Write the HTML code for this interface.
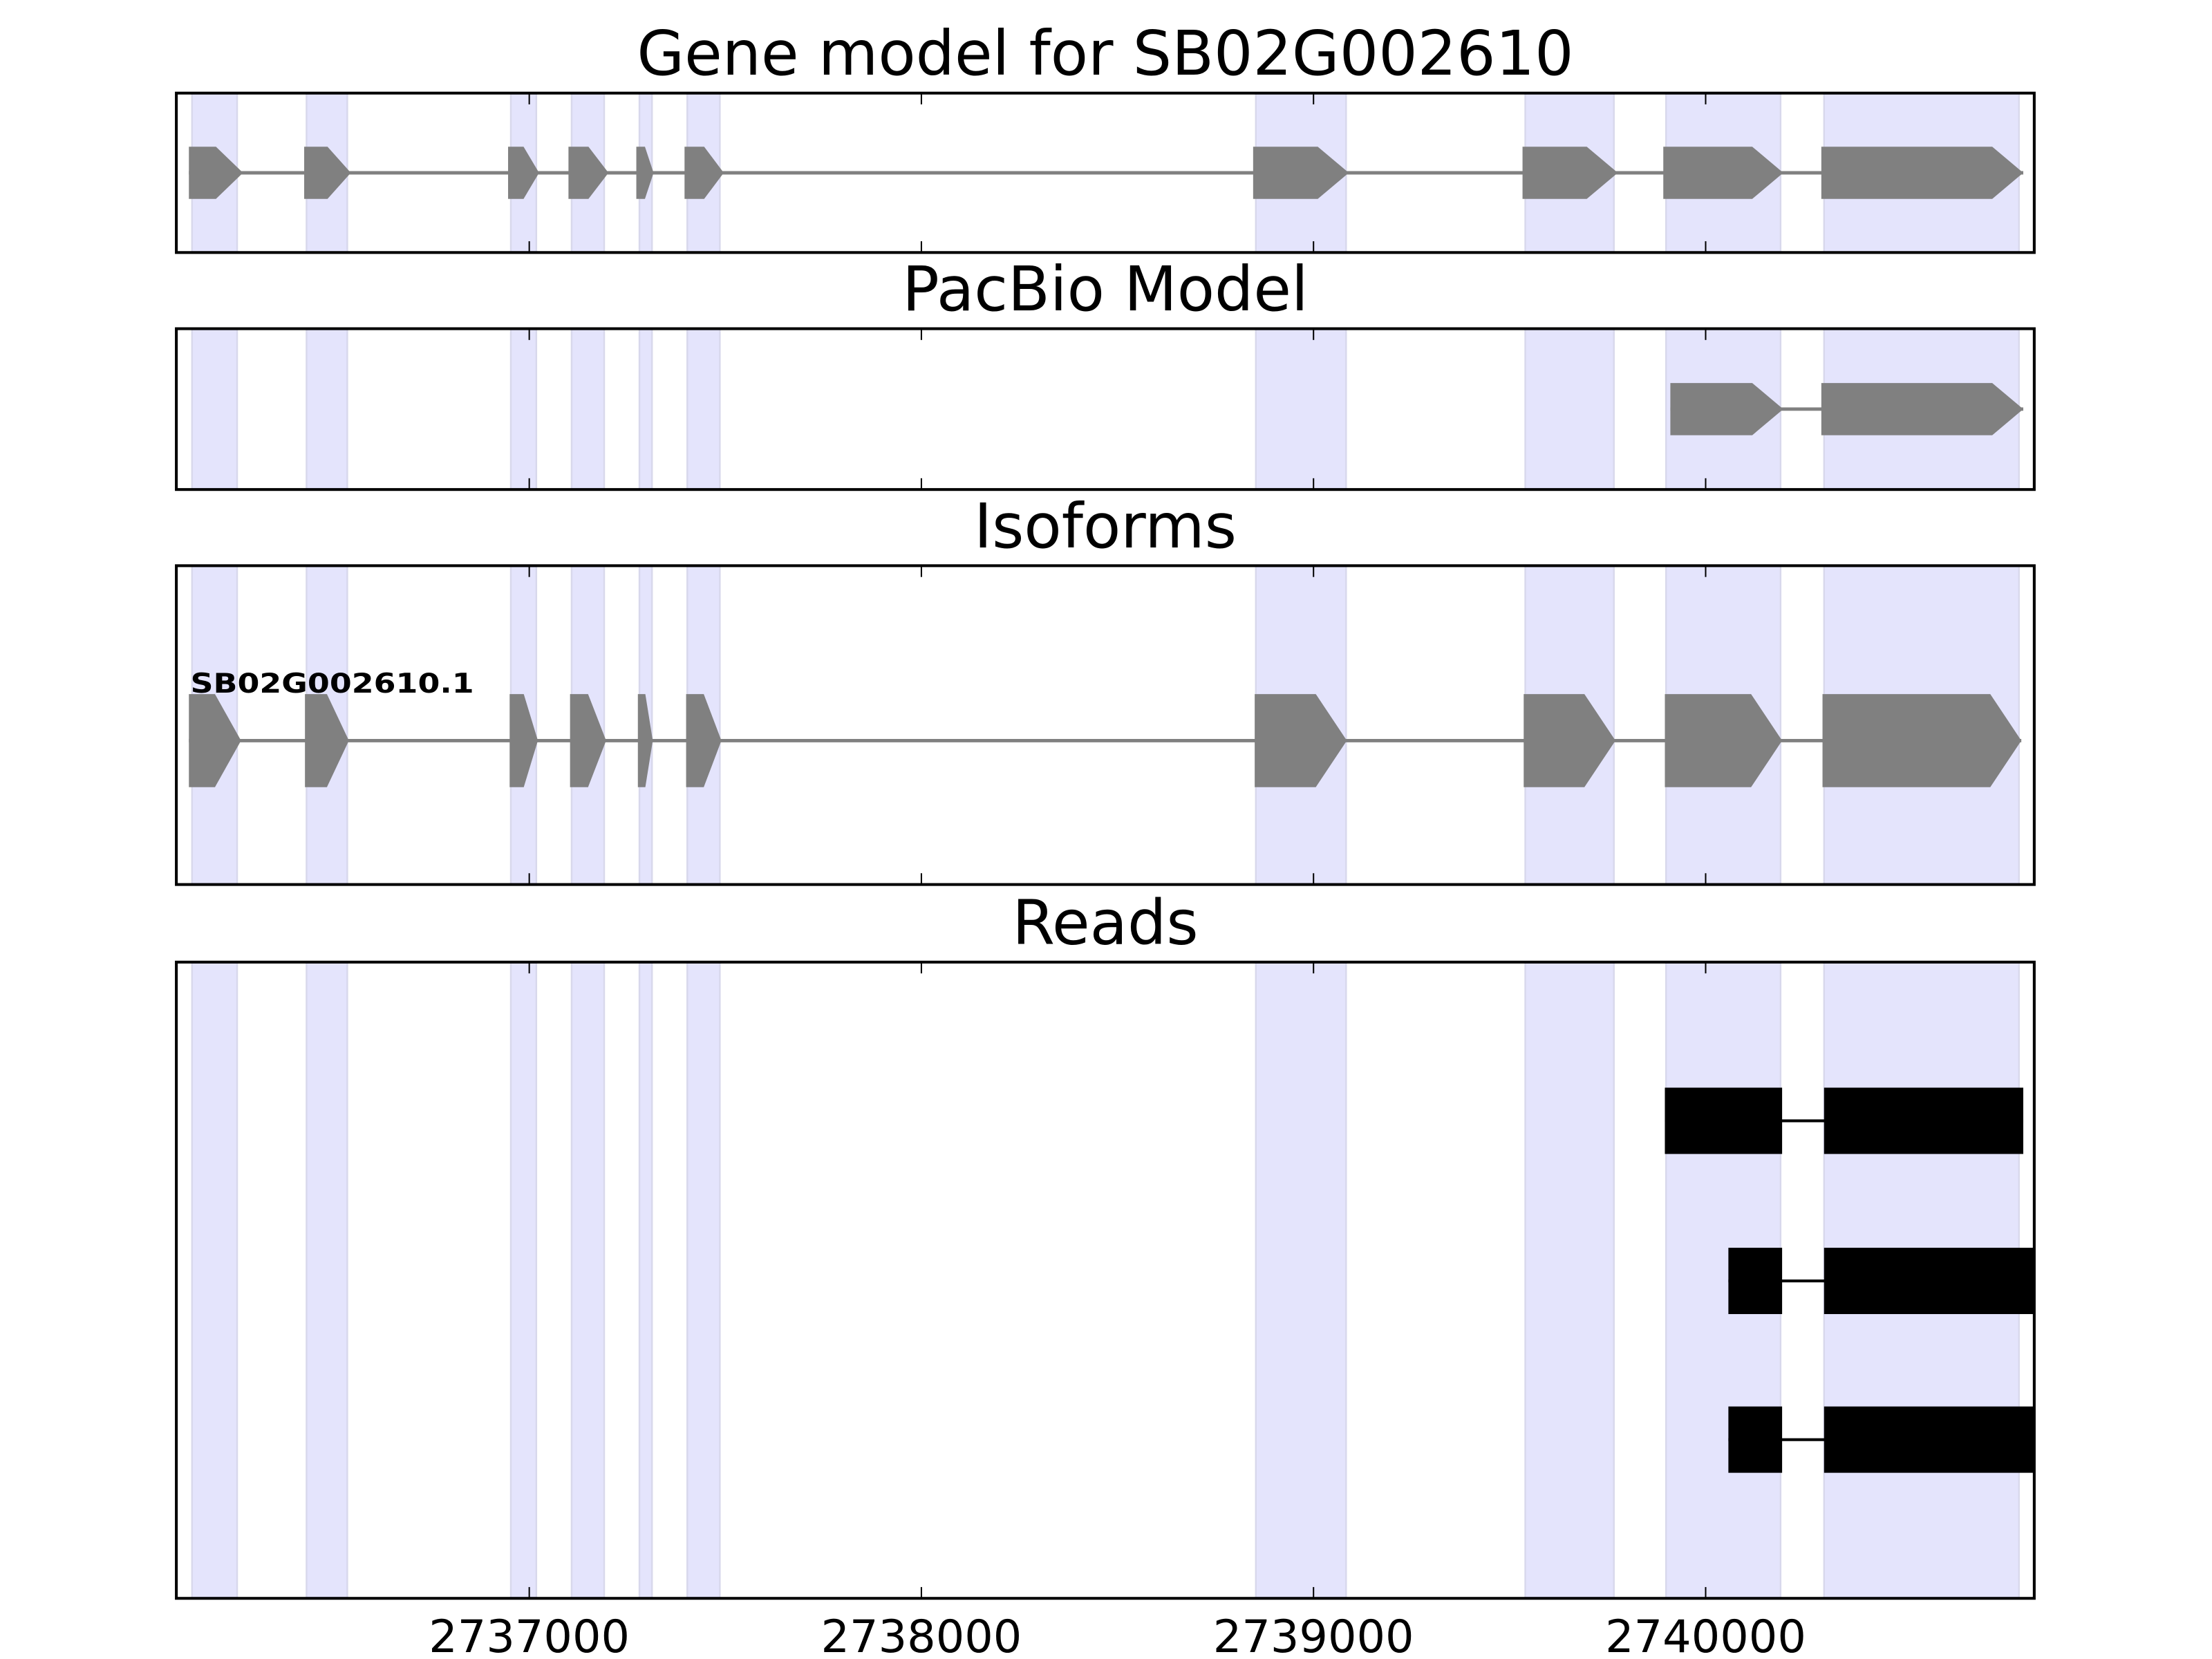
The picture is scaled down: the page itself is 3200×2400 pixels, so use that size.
<!DOCTYPE html>
<html><head><meta charset="utf-8"><style>
html,body{margin:0;padding:0;background:#fff;}
svg{display:block;}
text{font-family:"DejaVu Sans","Liberation Sans",sans-serif;}
</style></head><body>
<svg id="chart" xmlns="http://www.w3.org/2000/svg" width="3200" height="2400" viewBox="0 0 1568 1176"></svg>
<script>
const xDomain = [2736100, 2740838];
const tickValues = [2737000, 2738000, 2739000, 2740000];
const tickLabels = ["2737000", "2738000", "2739000", "2740000"];
const bandStarts = [2736140, 2736432, 2736953, 2737108, 2737281, 2737403, 2738853, 2739540, 2739899, 2740302];
const bandEnds   = [2736255, 2736536, 2737018, 2737191, 2737313, 2737486, 2739083, 2739766, 2740191, 2740799];
const geneStarts = [2736132, 2736426, 2736946, 2737100, 2737273, 2737396, 2738846, 2739533, 2739892, 2740295];
const geneEnds   = [2736270, 2736545, 2737025, 2737202, 2737317, 2737496, 2739090, 2739776, 2740198, 2740810];
const pacStarts = [2739910, 2740295];
const pacEnds   = [2740198, 2740810];
const isoStarts = [2736132, 2736428, 2736950, 2737104, 2737277, 2737400, 2738850, 2739536, 2739896, 2740298];
const isoEnds   = [2736265, 2736540, 2737022, 2737196, 2737315, 2737490, 2739085, 2739770, 2740195, 2740805];
const readStarts = [[2739896, 2740302], [2740058, 2740302], [2740058, 2740302]];
const readEnds   = [[2740195, 2740810], [2740195, 2740900], [2740195, 2740900]];

const NS = "http://www.w3.org/2000/svg";
const svg = document.getElementById('chart');
const L = 125, R = 1442;
function xs(v){ return L + (v - xDomain[0]) / (xDomain[1] - xDomain[0]) * (R - L); }
function mk(tag, attrs, parent){ const e = document.createElementNS(NS, tag); for (const k in attrs) e.setAttribute(k, attrs[k]); (parent||svg).appendChild(e); return e; }

const panels = [
  {name:'gene-model-panel', title:'Gene model for SB02G002610', top:66, bot:179},
  {name:'pacbio-panel', title:'PacBio Model', top:233, bot:347},
  {name:'isoforms-panel', title:'Isoforms', top:401, bot:627},
  {name:'reads-panel', title:'Reads', top:682, bot:1133}
];

function arrowExons(g, starts, ends, cy, h, nm){
  mk('line', {x1:xs(starts[0]), x2:xs(ends[ends.length-1]), y1:cy, y2:cy, stroke:'#808080', 'stroke-width':2.4}, g);
  for (let i = 0; i < starts.length; i++){
    const x0 = xs(starts[i]), x1 = xs(ends[i]);
    const w = x1 - x0, tip = Math.min(22, w * 0.5);
    const p = mk('polygon', {points:`${x0},${cy-h/2} ${x1-tip},${cy-h/2} ${x1},${cy} ${x1-tip},${cy+h/2} ${x0},${cy+h/2}`, fill:'#808080'}, g);
    
    
  }
}

panels.forEach((p, pi) => {
  const g = mk('g', {});
  
  
  const clipId = 'clip' + pi;
  const cp = mk('clipPath', {id: clipId}, g);
  mk('rect', {x:L, y:p.top, width:R-L, height:p.bot-p.top}, cp);
  const inner = mk('g', {'clip-path':`url(#${clipId})`}, g);
  for (let i = 0; i < bandStarts.length; i++){
    const b = mk('rect', {x:xs(bandStarts[i]), y:p.top, width:xs(bandEnds[i])-xs(bandStarts[i]), height:p.bot-p.top, fill:'#e4e4fc', stroke:'#d8d8ec', 'stroke-width':1.2}, inner);
    
    
  }
  if (pi === 0) arrowExons(inner, geneStarts, geneEnds, 122.5, 37, 'gene');
  if (pi === 1) arrowExons(inner, pacStarts, pacEnds, 290, 37, 'pacbio');
  if (pi === 2){
    arrowExons(inner, isoStarts, isoEnds, 525, 66, 'isoform');
    const t = mk('text', {x:135, y:491, 'font-size':19, 'font-weight':'bold', textLength:201, lengthAdjust:'spacingAndGlyphs'}, g);
    t.textContent = 'SB02G002610.1';
    
    
  }
  if (pi === 3){
    const cys = [794.5, 908, 1020.5];
    readStarts.forEach((rs, ri) => {
      const re = readEnds[ri];
      const rg = mk('g', {}, inner);
      
      
      mk('line', {x1:xs(rs[0]), x2:xs(re[re.length-1]), y1:cys[ri], y2:cys[ri], stroke:'#000', 'stroke-width':2}, rg);
      for (let k = 0; k < rs.length; k++){
        const r = mk('rect', {x:xs(rs[k]), y:cys[ri]-23.5, width:xs(re[k])-xs(rs[k]), height:47, fill:'#000'}, rg);
        
      }
    });
  }
  tickValues.forEach(v => {
    mk('line', {x1:xs(v), x2:xs(v), y1:p.top, y2:p.top+8, stroke:'#000', 'stroke-width':1}, g);
    mk('line', {x1:xs(v), x2:xs(v), y1:p.bot, y2:p.bot-8, stroke:'#000', 'stroke-width':1}, g);
  });
  const fr = mk('rect', {x:L, y:p.top, width:R-L, height:p.bot-p.top, fill:'none', stroke:'#000', 'stroke-width':2}, g);
  
  const tt = mk('text', {x:(L+R)/2, y:p.top-13, 'font-size':43.5, 'text-anchor':'middle'}, g);
  tt.textContent = p.title;
  
  
});

tickValues.forEach((v, i) => {
  const t = mk('text', {x:xs(v), y:1171, 'font-size':32, 'text-anchor':'middle'});
  t.textContent = tickLabels[i];
  
  
});
</script>
</body></html>
